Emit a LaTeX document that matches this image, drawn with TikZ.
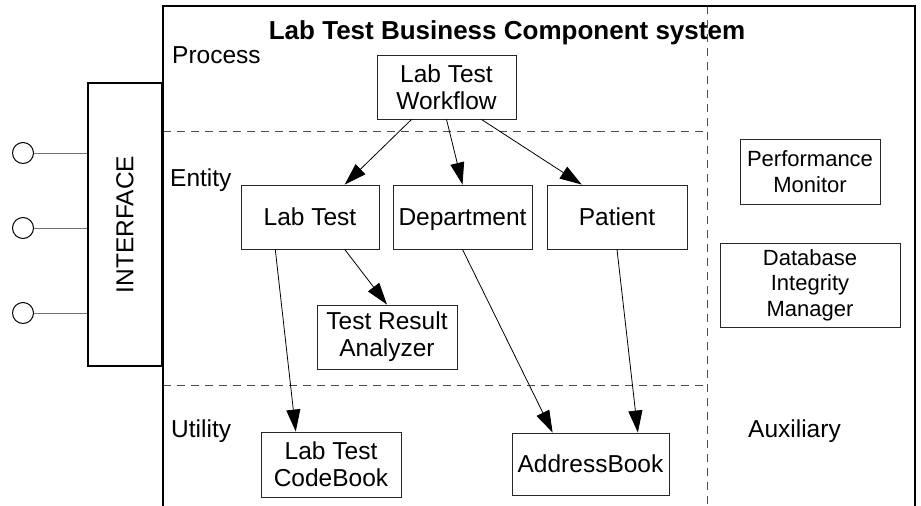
\documentclass[tikz,border=0pt]{standalone}
\usepackage{fontspec}
\setmainfont{Liberation Sans}
\usetikzlibrary{arrows.meta,calc}

\newcommand{\bodyfont}{\fontsize{24.5}{27}\selectfont}
\newcommand{\auxfont}{\fontsize{22}{25.5}\selectfont}
% single-line label with its descenders ignored for vertical centring
\newcommand{\nodepth}[1]{\raisebox{0pt}[\height][0pt]{#1}}

\tikzset{
  comp/.style={draw=black!85, line width=0.9pt, fill=white, align=center,
    inner sep=0pt, font=\bodyfont},
  auxcomp/.style={comp, font=\auxfont},
  layerlabel/.style={anchor=base west, inner sep=0pt, font=\bodyfont},
  dep/.style={draw=black, line width=0.8pt, -{Triangle[length=22pt,width=14pt]}},
  divider/.style={draw=black!70, line width=1pt, dash pattern=on 8pt off 6pt},
  frameline/.style={draw=black, line width=2pt},
  port/.style={circle, draw=black, line width=1pt, minimum size=21pt, inner sep=0pt},
  portline/.style={draw=black!55, line width=1pt},
}

\begin{document}
\begin{tikzpicture}[x=1pt, y=-1pt]
\useasboundingbox (0,0) rectangle (921,506);

% layer dividers
\draw[divider] (163,131) -- (707,131);
\draw[divider] (163,385) -- (707,385);
\draw[divider] (707,6) -- (707,506);

% system frame (open at the bottom)
\draw[frameline] (163,506) -- (163,6) -- (915,6) -- (915,506);

% interface block with its ports
\node[draw=black, line width=2pt, minimum width=74pt, minimum height=283pt,
  inner sep=0pt] (iface) at (125,224.5) {};
\node[rotate=90, font=\bodyfont] (ifacetext) at (iface.center) {INTERFACE};
\node[port] (p1) at (23,153) {};
\node[port] (p2) at (23,228) {};
\node[port] (p3) at (23,313) {};
\draw[portline] (p1.east) -- (p1.east -| iface.west);
\draw[portline] (p2.east) -- (p2.east -| iface.west);
\draw[portline] (p3.east) -- (p3.east -| iface.west);

% title and layer names
\node[anchor=base, inner sep=0pt, font=\bfseries\fontsize{26}{30}\selectfont] (title) at (507,39) {Lab Test Business Component system};
\node[layerlabel] (lprocess) at (172,63) {Process};
\node[layerlabel] (lentity) at (170,186) {Entity};
\node[layerlabel] (lutility) at (171,437) {Utility};
\node[layerlabel] (laux) at (748,437) {Auxiliary};

% components
\node[comp, minimum width=139pt, minimum height=64pt] (wf) at (446.5,87) {Lab Test\\Workflow};
\node[comp, minimum width=138pt, minimum height=64pt] (lab) at (310,217) {Lab Test};
\node[comp, minimum width=139pt, minimum height=64pt] (dept) at (462.5,217) {\nodepth{Department}};
\node[comp, minimum width=140pt, minimum height=64pt] (pat) at (617,217) {Patient};
\node[auxcomp, minimum width=140pt, minimum height=65pt] (perf) at (810,171.5) {Performance\\Monitor};
\node[auxcomp, minimum width=180pt, minimum height=84pt] (dbim) at (810,285) {Database\\Integrity\\Manager};
\node[comp, minimum width=140pt, minimum height=64pt] (tra) at (387,337) {Test Result\\Analyzer};
\node[comp, minimum width=140pt, minimum height=65pt] (code) at (331,464.5) {Lab Test\\CodeBook};
\node[comp, minimum width=157pt, minimum height=62pt] (addr) at (590.5,464) {AddressBook};

% dependencies
\draw[dep] ($(wf.south west)!0.25!(wf.south east)$) -- ($(lab.north west)!0.75!(lab.north east)$);
\draw[dep] ($(wf.south west)!0.5!(wf.south east)$) -- ($(dept.north west)!0.5!(dept.north east)$);
\draw[dep] ($(wf.south west)!0.75!(wf.south east)$) -- ($(pat.north west)!0.25!(pat.north east)$);
\draw[dep] ($(lab.south west)!0.75!(lab.south east)$) -- ($(tra.north west)!0.5!(tra.north east)$);
\draw[dep] ($(lab.south west)!0.25!(lab.south east)$) -- ($(code.north west)!0.25!(code.north east)$);
\draw[dep] ($(dept.south west)!0.5!(dept.south east)$) -- ($(addr.north west)!0.26!(addr.north east)$);
\draw[dep] ($(pat.south west)!0.5!(pat.south east)$) -- ($(addr.north west)!0.8!(addr.north east)$);
\end{tikzpicture}
\end{document}
